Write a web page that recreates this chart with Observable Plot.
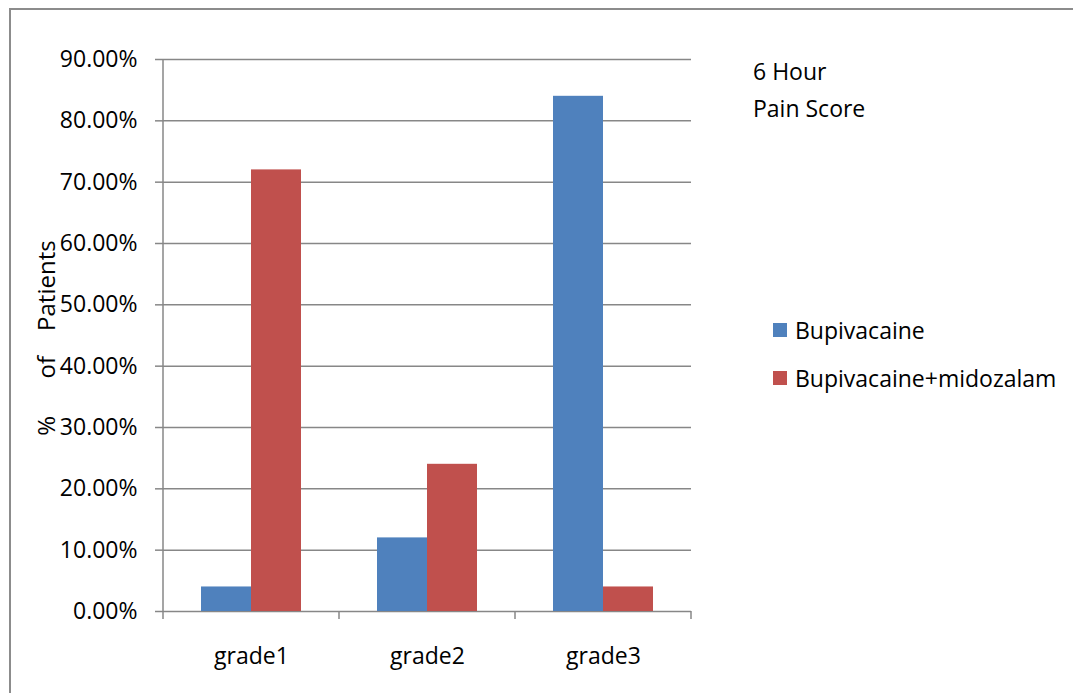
<!DOCTYPE html>
<html>
<head>
<meta charset="utf-8">
<script src="https://cdn.jsdelivr.net/npm/d3@7"></script>
<script src="https://cdn.jsdelivr.net/npm/@observablehq/plot@0.6"></script>
<style>
  html, body { margin: 0; padding: 0; background: #fff; overflow: hidden; }
  #wrap { position: relative; width: 1073px; height: 693px; overflow: hidden; font-family: "Open Sans", sans-serif; color: #000; }
  #btop { position: absolute; left: 9px; top: 8px; width: 1064px; height: 2px; background: #8c8c8c; }
  #bleft { position: absolute; left: 9px; top: 8px; width: 2px; height: 685px; background: #8c8c8c; }
  #chart { position: absolute; left: 0; top: 0; }
  .title { position: absolute; left: 753px; top: 53px; font-size: 23px; line-height: 37px; }
  .legend { position: absolute; left: 773px; top: 314px; font-size: 23px; }
  .legend .row { display: flex; align-items: center; height: 32px; margin-bottom: 16px; }
  .legend .sw { width: 14px; height: 14px; margin-right: 8px; }
  .ytitle { position: absolute; left: 45px; top: 338px; font-size: 24px; white-space: pre; transform: translate(-50%, -50%) rotate(-90deg); }
</style>
</head>
<body>
<div id="wrap">
  <div id="btop"></div>
  <div id="bleft"></div>
  <div id="chart"></div>
  <div class="title">6 Hour<br>Pain Score</div>
  <div class="legend" id="legend"></div>
  <div class="ytitle" id="ytitle"></div>
</div>
<script>
const grades = ["grade1", "grade2", "grade3"];
const seriesNames = ["Bupivacaine", "Bupivacaine+midozalam"];
const bupivacaine = [0.04, 0.12, 0.84];
const bupivacaineMidozalam = [0.72, 0.24, 0.04];
const yTicks = [0, 0.1, 0.2, 0.3, 0.4, 0.5, 0.6, 0.7, 0.8, 0.9];
const colors = ["#4F81BD", "#C0504D"];
const yTitle = "%      of    Patients";

const seriesValues = [bupivacaine, bupivacaineMidozalam];
const table = [];
grades.forEach((g, i) => {
  seriesNames.forEach((s, j) => table.push({grade: g, series: s, value: seriesValues[j][i]}));
});

const plot = Plot.plot({
  width: 1073,
  height: 693,
  marginLeft: 163,
  marginRight: 382,
  marginTop: 59,
  marginBottom: 82,
  style: {fontFamily: "Open Sans", fontSize: "23px", color: "#000", background: "transparent"},
  fx: {domain: grades, padding: 0, label: null},
  x: {domain: seriesNames, paddingInner: 0, paddingOuter: 0.76, axis: null},
  y: {domain: [0, 0.9], label: null},
  color: {domain: seriesNames, range: colors},
  marks: [
    Plot.gridY(yTicks, {stroke: "#878787", strokeOpacity: 1, strokeWidth: 1.5}),
    Plot.barY(table, {fx: "grade", x: "series", y: "value", fill: "series"}),
    Plot.axisY(yTicks, {tickSize: 8, tickPadding: 18, tickFormat: d3.format(".2%"), stroke: "#878787", strokeWidth: 1.5, strokeOpacity: 1, label: null}),
    Plot.axisFx({anchor: "bottom", tickSize: 0, tickPadding: 36, label: null})
  ]
});
document.getElementById("chart").appendChild(plot);

// axis line and category boundary ticks, positioned with the plot's own scales
const yS = plot.scale("y"), fxS = plot.scale("fx");
const y = d3.scaleLinear().domain(yS.domain).range(yS.range);
const fx = d3.scaleBand().domain(fxS.domain).range(fxS.range).padding(0);
const svg = d3.select(plot);
const g = svg.append("g").attr("stroke", "#878787").attr("stroke-width", 1.5);
g.append("line").attr("x1", fxS.range[0]).attr("x2", fxS.range[0]).attr("y1", y(d3.max(yTicks))).attr("y2", y(0));
const bounds = grades.map(d => fx(d)).concat([fxS.range[1]]);
bounds.forEach(b => g.append("line").attr("x1", b).attr("x2", b).attr("y1", y(0)).attr("y2", y(0) + 8));

// legend
const leg = document.getElementById("legend");
seriesNames.forEach((s, i) => {
  const row = document.createElement("div");
  row.className = "row";
  const sw = document.createElement("div");
  sw.className = "sw";
  sw.style.background = colors[i];
  const t = document.createElement("span");
  t.textContent = s;
  row.appendChild(sw); row.appendChild(t);
  leg.appendChild(row);
});
document.getElementById("ytitle").textContent = yTitle;
</script>
</body>
</html>
